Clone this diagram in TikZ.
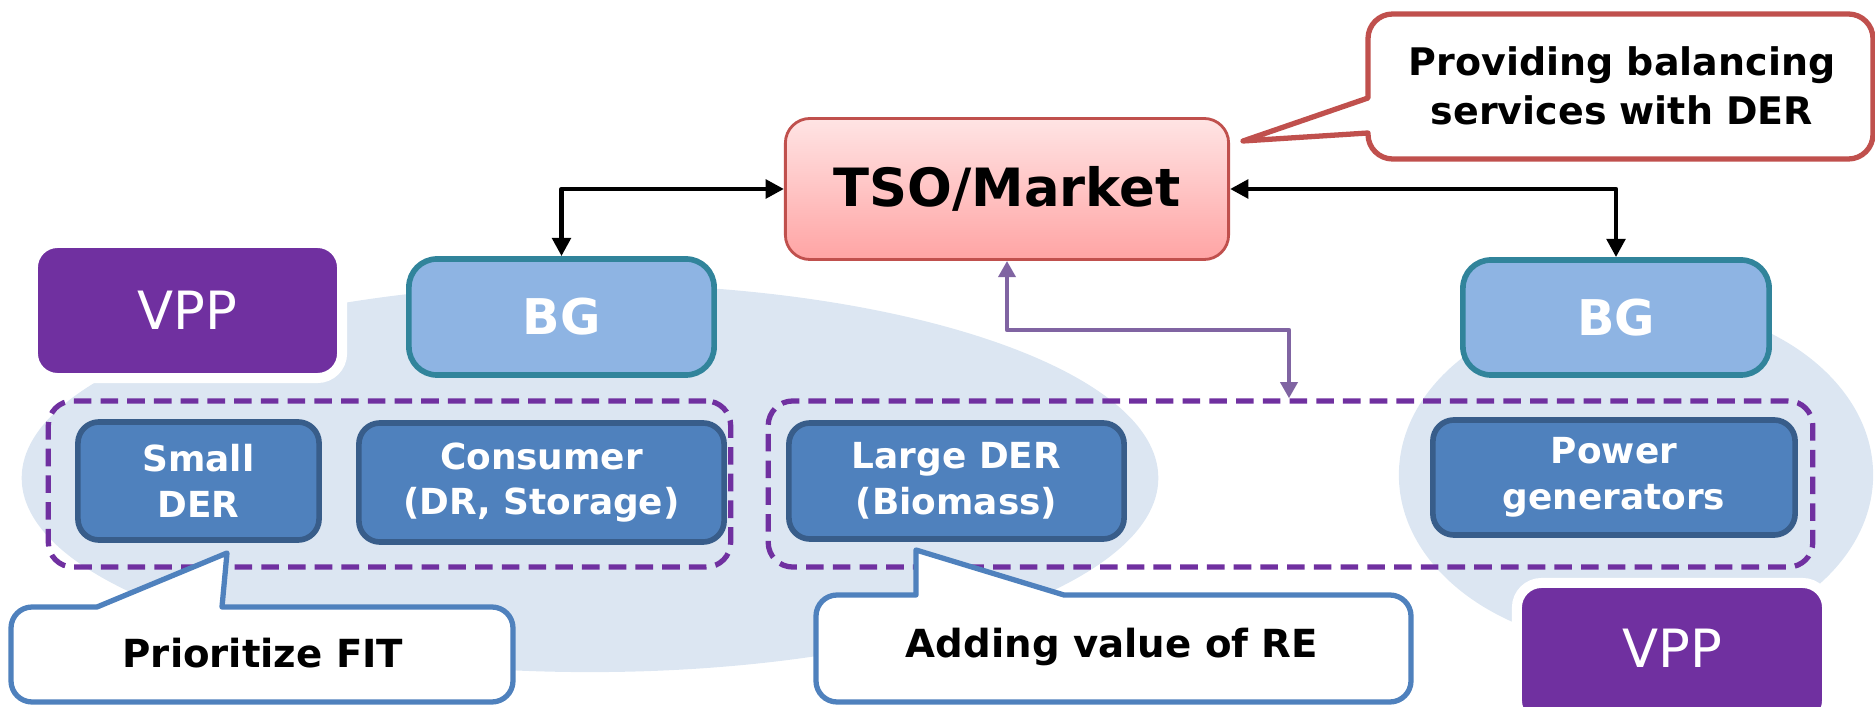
\documentclass[tikz,border=0pt]{standalone}
\usepackage{fontspec}
\setmainfont{DejaVu Sans}
\usetikzlibrary{arrows.meta}
\definecolor{vppcol}{HTML}{7030A0}
\definecolor{areacol}{HTML}{DCE6F2}
\definecolor{bgfill}{HTML}{8EB4E3}
\definecolor{bgedge}{HTML}{31849B}
\definecolor{derfill}{HTML}{4F81BD}
\definecolor{deredge}{HTML}{385D8A}
\definecolor{tsoedge}{HTML}{C0504D}
\definecolor{tsotop}{HTML}{FFE4E4}
\definecolor{tsobot}{HTML}{FFA4A4}
\definecolor{linkcol}{HTML}{8064A2}
\tikzset{
    vppbox/.style={fill=vppcol, draw=white, line width=0.1cm, rounded corners=7pt,
        text=white, font=\fontsize{15}{18}\selectfont},
    bgbox/.style={fill=bgfill, draw=bgedge, line width=1.6pt, rounded corners=8pt,
        text=white, font=\bfseries\fontsize{14}{17}\selectfont},
    derbox/.style={fill=derfill, draw=deredge, line width=1.6pt, rounded corners=6pt,
        text=white, align=center, font=\bfseries\fontsize{10.2}{13}\selectfont},
    vppgroup/.style={draw=vppcol, line width=1.5pt, dash pattern=on 5pt off 2.6pt,
        rounded corners=7pt, minimum height=1.66cm},
    note/.style={fill=white, line width=1.5pt, line join=round},
    notetext/.style={align=center, font=\bfseries\fontsize{11}{14}\selectfont},
    link/.style={black, line width=1.3pt, line join=round,
        {Triangle[length=5.2pt,width=5.2pt]}-{Triangle[length=5.2pt,width=5.2pt]}},
    vpplink/.style={linkcol, line width=1.2pt, line join=round,
        {Triangle[length=4.6pt,width=4.8pt]}-{Triangle[length=4.6pt,width=4.8pt]}}
}
\begin{document}
\begin{tikzpicture}[x=0.01cm, y=-0.01cm]
    \useasboundingbox (0,0) rectangle (1875,707);
    % Background areas of the two VPPs.
        \fill[areacol] (590,478) ellipse [x radius=5.68cm, y radius=1.94cm];
        \fill[areacol] (1636,475) ellipse [x radius=2.37cm, y radius=1.72cm];
    % VPP labels.
        \node[vppbox, minimum width=3.09cm, minimum height=1.35cm] (vppL) at (187.5,310.5) {VPP};
        \node[vppbox, minimum width=3.10cm, minimum height=1.42cm] (vppR) at (1672,654) {\raisebox{1.2mm}{VPP}};
    % TSO and the balancing groups.
        \node[draw=tsoedge, line width=0.8pt, rounded corners=7pt, top color=tsotop, bottom color=tsobot,
            minimum width=4.43cm, minimum height=1.41cm, font=\bfseries\fontsize{15}{18}\selectfont] (tso) at (1007,189) {TSO/Market};
        \node[bgbox, minimum width=3.05cm, minimum height=1.16cm] (bgL) at (561.5,317) {BG};
        \node[bgbox, minimum width=3.06cm, minimum height=1.15cm] (bgR) at (1616,317.5) {BG};
    % DER and consumers.
        \node[derbox, minimum width=2.41cm, minimum height=1.18cm] (smallder) at (198.5,481) {Small\\DER};
        \node[derbox, minimum width=3.65cm, minimum height=1.19cm] (consumer) at (541.5,482.5) {Consumer\\(DR, Storage)};
        \node[derbox, minimum width=3.35cm, minimum height=1.16cm] (largeder) at (956.5,481) {Large DER\\(Biomass)};
        \node[derbox, minimum width=3.62cm, minimum height=1.15cm] (powergen) at (1614,477.5) {Power\\generators};
    % Dashed VPP groups.
        \node[vppgroup, minimum width=6.82cm] (grpL) at (389.5,484) {};
        \node[vppgroup, minimum width=10.44cm] (grpR) at (1290.5,484) {};
    % Callouts.
        \draw[note, draw=tsoedge] (1243,141) -- (1368,133) [rounded corners=7pt] -- (1368,159) -- (1873,159)
            -- (1873,14) -- (1368,14) [sharp corners] -- (1368,98) -- cycle;
        \node[notetext, font=\bfseries\fontsize{10.8}{14}\selectfont] (balancing) at (1622,86) {Providing balancing\\services with DER};
        \draw[note, draw=derfill] (227,553) -- (222,607) [rounded corners=6pt] -- (513,607) -- (513,702)
            -- (11,702) -- (11,607) [sharp corners] -- (97,607) -- cycle;
        \node[notetext] (fit) at (263,653) {Prioritize FIT};
        \draw[note, draw=derfill] (916,550) -- (1064,595) [rounded corners=6pt] -- (1411,595) -- (1411,702)
            -- (816,702) -- (816,595) [sharp corners] -- (916,595) -- cycle;
        \node[notetext] (revalue) at (1112,647) {Adding value of RE};
    % Arrows.
        \draw[link] (tso.west) -| (bgL.north);
        \draw[link] (tso.east) -| (bgR.north);
        \coordinate (bend) at (1289,330);
        \draw[vpplink] (tso.south) |- (bend) -- (bend |- grpR.north);
\end{tikzpicture}
\end{document}
